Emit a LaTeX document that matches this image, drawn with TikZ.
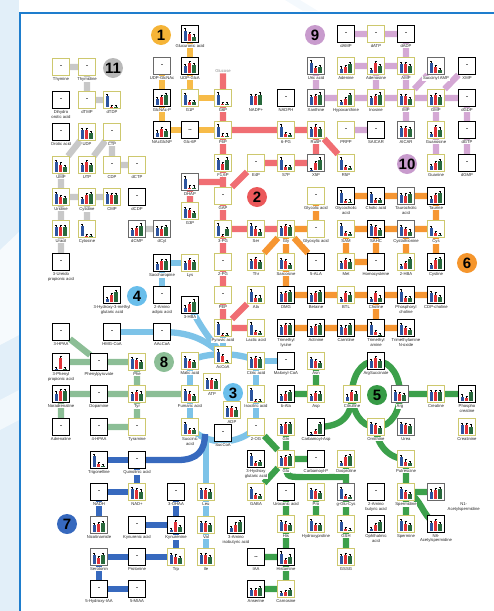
\documentclass[tikz,border=0pt]{standalone}
\usepackage{fontspec}
\setmainfont{Liberation Sans}
\usetikzlibrary{calc}
\pgfdeclarelayer{bg}
\pgfsetlayers{bg,main}
\definecolor{cyb}{RGB}{205,200,110}
\definecolor{cgb}{RGB}{105,105,105}
\definecolor{bblue}{RGB}{45,85,160}
\definecolor{bred}{RGB}{225,50,55}
\definecolor{bgreen}{RGB}{40,105,60}
\definecolor{lgray}{RGB}{200,200,200}
\definecolor{lorange}{RGB}{247,187,72}
\definecolor{lred}{RGB}{240,110,115}
\definecolor{dorange}{RGB}{246,150,50}
\definecolor{lpurple}{RGB}{212,168,212}
\definecolor{lblue}{RGB}{125,195,232}
\definecolor{sgreen}{RGB}{140,190,150}
\definecolor{dgreen}{RGB}{60,160,75}
\definecolor{dblue}{RGB}{55,105,190}
\definecolor{frameblue}{RGB}{30,125,205}
\definecolor{bgl}{RGB}{226,239,249}
\definecolor{k1}{RGB}{245,180,55}
\definecolor{k2}{RGB}{235,88,90}
\definecolor{k9}{RGB}{200,155,205}
\definecolor{k11}{RGB}{185,185,185}
\definecolor{k4}{RGB}{105,190,235}
\definecolor{k8}{RGB}{140,190,150}
\definecolor{k5}{RGB}{55,155,70}
\definecolor{k6}{RGB}{245,150,45}
\definecolor{k7}{RGB}{55,105,190}
\tikzset{
  mb/.style={rectangle,minimum size=17pt,inner sep=0pt,fill=white,line width=0.8pt},
  lab/.style={font=\fontsize{4.2}{4.7}\selectfont,inner sep=0.6pt,align=center,text=black!85,fill=white},
  eb/.style={line width=0.35pt,black},
  conn/.style={line width=6.3pt},
  cGr/.style={conn,lgray},
  cO1/.style={conn,lorange},
  cR/.style={conn,lred},
  cO6/.style={conn,dorange},
  cP/.style={conn,lpurple},
  cB/.style={conn,lblue},
  cG8/.style={conn,sgreen},
  cG5/.style={conn,dgreen},
  cDB/.style={conn,dblue},
  badge/.style={circle,minimum size=20pt,inner sep=0pt,font=\fontsize{15}{15}\selectfont\bfseries,text=black}
}
\newcommand\Mb[8]{%
  \node[mb,draw=#4] (#1) at (#2,#3) {};
  \foreach \hh/\xx/\cc in {#5/2.5/bblue,#6/6.75/bred,#7/11/bgreen}{
    \fill[\cc] ([shift={(\xx pt,1.5pt)}]#1.south west) rectangle ++(3.5pt,{\hh*12pt});
    \draw[eb] ([shift={({\xx pt+1.75pt},{1.5pt+\hh*12pt})}]#1.south west) -- ++(0pt,2pt) ++(-0.9pt,0pt) -- ++(1.8pt,0pt);
  }
  \node[lab,anchor=north] at ([yshift=-0.6pt]#1.south) {#8};
}
\newcommand\Md[6][-]{%
  \node[mb,draw=#5,font=\fontsize{6}{6}\selectfont\bfseries] (#2) at (#3,#4) {#1};
  \node[lab,anchor=north] at ([yshift=-0.6pt]#2.south) {#6};
}
\begin{document}
\begin{tikzpicture}[x=1pt,y=-1pt]
\useasboundingbox (0,0) rectangle (494,611);
% background
\fill[bgl] (0,0) rectangle (19,611);
\fill[white!70!bgl] (0,250) -- (19,232) -- (19,335) -- (0,345) -- cycle;
\fill[white!55!bgl] (0,400) -- (19,390) -- (19,420) -- (0,430) -- cycle;
\fill[white!60!bgl] (285,0) -- (300,0) -- (318,11) -- (303,11) -- cycle;
\draw[frameblue,line width=2pt] (19.5,611) -- (19.5,12.5) -- (494,12.5);
% badges
\node[badge,fill=k1] (b1) at (161,35) {1};
\node[badge,fill=k9] (b9) at (315,35) {9};
\node[badge,fill=k11] (b11) at (113,68) {11};
\node[badge,fill=k2] (b2) at (257,197) {2};
\node[badge,fill=k9] (b10) at (407,164) {10};
\node[badge,fill=k6] (b6) at (467,263) {6};
\node[badge,fill=k4] (b4) at (137,296) {4};
\node[badge,fill=k8] (b8) at (164,362) {8};
\node[badge,fill=k4] (b3) at (233,393) {3};
\node[badge,fill=k5] (b5) at (377,395) {5};
\node[badge,fill=k7] (b7) at (67,524) {7};
% ---- section 11
\Md{thymine}{61}{67}{cyb}{Thymine}
\Md{thymidine}{87}{67}{cyb}{Thymidine}
\Md{dho}{61}{100}{black}{Dihydro\\orotic acid}
\Md{dtmp}{87}{100}{cyb}{dTMP}
\Mb{dtdp}{112}{100}{cyb}{.95}{.04}{.04}{dTDP}
\Md{orotic}{61}{132}{black}{Orotic acid}
\Mb{udp}{87}{132}{cyb}{.8}{.75}{.55}{UDP}
\Md{ctp}{112}{132}{cyb}{CTP}
\Mb{ump}{61}{165}{cyb}{.85}{.65}{.45}{UMP}
\Mb{utp}{87}{165}{cyb}{.6}{.85}{.6}{UTP}
\Md{cdp}{112}{165}{cyb}{CDP}
\Md{dctp}{137}{165}{cyb}{dCTP}
\Mb{uridine}{61}{197}{cyb}{.85}{.6}{.5}{Uridine}
\Mb{cytidine}{87}{197}{cyb}{.45}{.8}{.85}{Cytidine}
\Mb{cmp}{112}{197}{cyb}{.85}{.8}{.75}{CMP}
\Md{dcdp}{137}{197}{black}{dCDP}
\Mb{uracil}{61}{229}{cyb}{.8}{.8}{.8}{Uracil}
\Mb{cytosine}{87}{229}{cyb}{.85}{.04}{.04}{Cytosine}
\Mb{dcmp}{137}{229}{cgb}{.55}{.7}{.9}{dCMP}
\Mb{dcyt}{162}{229}{cgb}{.7}{.65}{.75}{dCyt}
\Md{ureido}{61}{262}{black}{3-Ureido\\propionic acid}
% ---- section 1
\Mb{glcua}{190}{34}{black}{.9}{.6}{.4}{Glucuronic acid}
\Md{udpglcnac}{162}{66}{cgb}{UDP-GlcNAc}
\Mb{udpglca}{190}{66}{black}{.6}{.85}{.7}{UDP-GlcA}
\Mb{glcnacp}{162}{98}{black}{.5}{.7}{.85}{GlcNAc-P}
\Mb{g1p}{190}{98}{cyb}{.85}{.25}{.3}{G1P}
\Mb{g6p}{223}{98}{cyb}{.9}{.1}{.1}{G6P}
\Mb{nadp}{256}{98}{white}{.75}{.75}{.9}{NADP+}
\Md{nadph}{286}{98}{black}{NADPH}
\Mb{nacglcnp}{162}{130}{black}{.4}{.7}{.5}{NAcGlcNP}
\Md[..]{glc6p}{190}{130}{black}{Glc-6P}
\Mb{f6p}{223}{130}{cyb}{.9}{.15}{.15}{F6P}
\Mb{pg6}{286}{130}{cyb}{.9}{.25}{.2}{6-PG}
\Mb{ru5p}{316}{130}{cyb}{.7}{.9}{.7}{Ru5P}
\node[lab,text=black!45] (glucose) at (223,71) {Glucose};
% ---- section 9
\Mb{uric}{316}{66}{cgb}{.9}{.45}{.5}{Uric acid}
\Mb{xanthine}{316}{98}{cgb}{.7}{.75}{.9}{Xanthine}
\Md{damp}{346}{34}{black}{dAMP}
\Md{datp}{376}{34}{cyb}{dATP}
\Md{dadp}{406}{34}{black}{dADP}
\Mb{adenine}{346}{66}{cyb}{.4}{.55}{.75}{Adenine}
\Mb{adenosine}{376}{66}{cyb}{.3}{.85}{.6}{Adenosine}
\Mb{amp}{406}{66}{cyb}{.8}{.8}{.6}{AMP}
\Mb{samp}{436}{66}{cgb}{.85}{.5}{.3}{Succinyl AMP}
\Md{xmp}{467}{66}{black}{XMP}
\Mb{hypox}{346}{98}{cyb}{.3}{.5}{.85}{Hypoxanthine}
\Mb{inosine}{376}{98}{cyb}{.6}{.8}{.9}{Inosine}
\Mb{imp}{406}{98}{cyb}{.8}{.75}{.55}{IMP}
\Mb{gmp}{436}{98}{cyb}{.7}{.85}{.7}{GMP}
\Md{dgdp}{467}{98}{black}{dGDP}
\Md{prpp}{346}{130}{cyb}{PRPP}
\Md{saicar}{376}{130}{black}{SAICAR}
\Mb{aicar}{406}{130}{cgb}{.8}{.75}{.7}{AICAR}
\Mb{guanosine}{436}{130}{cyb}{.3}{.85}{.65}{Guanosine}
\Md{dgtp}{467}{130}{black}{dGTP}
\Mb{guanine}{436}{163}{cyb}{.35}{.6}{.75}{Guanine}
\Md{dgmp}{467}{163}{black}{dGMP}
% ---- section 2
\Mb{f16p}{223}{163}{cyb}{.85}{.55}{.9}{F1,6P}
\Md{e4p}{256}{163}{cyb}{E4P}
\Mb{s7p}{286}{163}{cyb}{.9}{.3}{.3}{S7P}
\Mb{x5p}{316}{163}{cgb}{.04}{.6}{.9}{X5P}
\Mb{r5p}{346}{163}{cyb}{.9}{.3}{.2}{R5P}
\Mb{dhap}{190}{182}{cgb}{.9}{.15}{.15}{DHAP}
\Mb{g3p}{190}{211}{cyb}{.8}{.7}{.45}{G3P}
\Md{gap}{223}{196}{cyb}{GAP}
\Mb{pg3}{223}{229}{cyb}{.9}{.04}{.6}{3-PG}
\Mb{ser}{256}{229}{cyb}{.9}{.65}{.4}{Ser}
\Mb{gly}{286}{229}{cyb}{.7}{.85}{.75}{Gly}
\Md{glycolic}{316}{196}{cyb}{Glycolic acid}
\Md{glyoxylic}{316}{229}{cyb}{Glyoxylic acid}
\Md{pg2}{223}{262}{cyb}{2-PG}
\Mb{thr}{256}{262}{cyb}{.7}{.85}{.6}{Thr}
\Mb{sarcosine}{286}{262}{cyb}{.8}{.7}{.35}{Sarcosine}
\Md{alaf}{316}{262}{black}{5-ALA}
\Md{pep}{223}{295}{cyb}{PEP}
\Mb{ala}{256}{295}{cyb}{.9}{.4}{.4}{Ala}
% ---- section 6
\Mb{glycocholic}{346}{196}{black}{.9}{.2}{.15}{Glycocholic\\acid}
\Mb{cholic}{376}{196}{black}{.8}{.3}{.25}{Cholic acid}
\Mb{taurocholic}{406}{196}{cgb}{.7}{.65}{.75}{Taurocholic\\acid}
\Mb{taurine}{436}{196}{black}{.4}{.7}{.85}{Taurine}
\Mb{sam}{346}{229}{cyb}{.9}{.3}{.2}{SAM}
\Mb{sahc}{376}{229}{black}{.85}{.75}{.55}{SAHC}
\Mb{cystath}{406}{229}{cgb}{.8}{.6}{.4}{Cystathionine}
\Mb{cys}{436}{229}{cyb}{.7}{.3}{.1}{Cys}
\Mb{met}{346}{262}{cyb}{.5}{.8}{.65}{Met}
\Md{homocys}{376}{262}{black}{Homocysteine}
\Mb{hbatwo}{406}{262}{cyb}{.3}{.55}{.85}{2-HBA}
\Mb{cystine}{436}{262}{black}{.35}{.75}{.85}{Cystine}
\Mb{dmg}{286}{295}{black}{.7}{.8}{.85}{DMG}
\Mb{betaine}{316}{295}{black}{.6}{.8}{.85}{Betaine}
\Mb{btl}{346}{295}{cyb}{.25}{.8}{.65}{BTL}
\Mb{choline}{376}{295}{black}{.25}{.75}{.4}{Choline}
\Mb{pcholine}{406}{295}{black}{.9}{.35}{.35}{Phosphoryl\\choline}
\Mb{cdpcholine}{436}{295}{black}{.75}{.65}{.45}{CDP-choline}
\Mb{tmlys}{286}{328}{black}{.7}{.85}{.85}{Trimethyl\\lysine}
\Mb{actinine}{316}{328}{black}{.6}{.75}{.85}{Actinine}
\Mb{carnitine}{346}{328}{black}{.7}{.65}{.85}{Carnitine}
\Mb{tma}{376}{328}{black}{.9}{.3}{.04}{Trimethyl\\amine}
\Mb{tmao}{406}{328}{black}{.85}{.6}{.45}{Trimethylamine\\N-oxide}
% ---- sections 4 / 3
\Mb{saccharopine}{162}{263}{black}{.5}{.8}{.75}{Saccharopine}
\Mb{lys}{190}{263}{cyb}{.6}{.85}{.7}{Lys}
\Mb{hmg}{112}{295}{black}{.3}{.6}{.85}{3-Hydroxy-3-methyl\\glutaric acid}
\Md{aaa}{162}{295}{black}{2-Amino\\adipic acid}
\Mb{hbathree}{190}{305}{black}{.4}{.7}{.9}{3-HBA}
\Md{hpaa}{61}{332}{black}{3-HPAA}
\Md{hmgcoa}{112}{332}{black}{HMG-CoA}
\Md{aacoa}{162}{332}{black}{AAcCoA}
\Mb{pyruvic}{223}{328}{cyb}{.95}{.04}{.04}{Pyruvic acid}
\Mb{lactic}{256}{328}{cyb}{.9}{.3}{.2}{Lactic acid}
\Mb{accoa}{223}{355}{cyb}{.9}{.5}{.04}{AcCoA}
\Mb{malic}{190}{361}{cyb}{.85}{.6}{.5}{Malic acid}
\Mb{citric}{256}{361}{cyb}{.75}{.85}{.8}{Citric acid}
\Md{malonyl}{286}{361}{black}{Malonyl-CoA}
\Mb{atp}{212}{382}{cyb}{.8}{.75}{.7}{ATP}
\Mb{fumaric}{190}{394}{cyb}{.85}{.65}{.45}{Fumaric acid}
\Mb{isocitric}{256}{394}{cyb}{.95}{.04}{.04}{Isocitric acid}
\Mb{adp}{232}{410}{cyb}{.8}{.75}{.65}{ADP}
\Mb{succinic}{190}{427}{cyb}{.85}{.35}{.35}{Succinic\\acid}
\Md{succoa}{223}{433}{black}{SucCoA}
\Md{ogtwo}{256}{427}{cyb}{2-OG}
% ---- section 5
\Mb{asn}{316}{361}{cyb}{.8}{.6}{.45}{Asn}
\Mb{bala}{286}{394}{black}{.45}{.65}{.8}{b-Ala}
\Mb{asp}{316}{394}{cyb}{.45}{.7}{.65}{Asp}
\Mb{gln}{286}{427}{cyb}{.7}{.85}{.85}{Gln}
\Mb{casp}{316}{427}{black}{.04}{.3}{.85}{Carbamoyl-Asp}
\Mb{argsucc}{376}{361}{black}{.6}{.85}{.6}{ArgSuccinate}
\Mb{citrulline}{352}{394}{cyb}{.4}{.75}{.65}{Citrulline}
\Mb{arg}{400}{394}{cgb}{.75}{.6}{.5}{Arg}
\Mb{creatine}{436}{394}{cyb}{.75}{.75}{.8}{Creatine}
\Mb{pcreatine}{467}{394}{black}{.4}{.3}{.75}{Phospho\\creatine}
\Mb{ornithine}{376}{427}{cyb}{.85}{.75}{.5}{Ornithine}
\Mb{urea}{406}{427}{cgb}{.85}{.75}{.7}{Urea}
\Mb{creatinine}{467}{427}{cyb}{.75}{.8}{.65}{Creatinine}
\Mb{hga}{256}{459}{black}{.9}{.3}{.35}{3-Hydroxy\\glutaric acid}
\Mb{glu}{286}{459}{cyb}{.7}{.8}{.85}{Glu}
\Md{carbp}{316}{459}{black}{Carbamoyl-P}
\Mb{oxopro}{346}{459}{cyb}{.3}{.8}{.85}{Oxoproline}
\Mb{putrescine}{406}{459}{cyb}{.8}{.4}{.3}{Putrescine}
\Mb{gaba}{256}{492}{cyb}{.85}{.35}{.25}{GABA}
\Md{urocanic}{286}{492}{black}{Urocanic acid}
\Mb{pro}{316}{492}{cyb}{.8}{.7}{.55}{Pro}
\Mb{gglucys}{346}{492}{cgb}{.85}{.3}{.2}{g-Glu-Cys}
\Md{aba}{376}{492}{black}{2-Amino\\butyric acid}
\Mb{spermidine}{406}{492}{cyb}{.85}{.6}{.45}{Spermidine}
\Mb{nacone}{436}{492}{cgb}{.65}{.75}{.85}{}
\node[lab,anchor=north west] (nacl) at ([xshift=2pt,yshift=-1pt]nacone.south east) {N1-\\Acetylspermidine};
\Mb{his}{286}{524}{cyb}{.8}{.65}{.5}{His}
\Mb{hypro}{316}{524}{cyb}{.85}{.55}{.55}{Hydroxyproline}
\Mb{gsh}{346}{524}{cyb}{.8}{.2}{.1}{GSH}
\Mb{ophth}{376}{524}{black}{.2}{.55}{.75}{Ophthalmic\\acid}
\Mb{spermine}{406}{524}{cyb}{.85}{.65}{.5}{Spermine}
\Mb{nac8}{436}{524}{black}{.7}{.85}{.6}{N8-\\Acetylspermidine}
\Md[..]{iaa}{256}{557}{black}{IAA}
\Mb{histamine}{286}{557}{black}{.9}{.35}{.65}{Histamine}
\Mb{gssg}{346}{557}{cyb}{.7}{.75}{.7}{GSSG}
\Mb{anserine}{256}{589}{black}{.5}{.55}{.7}{Anserine}
\Mb{carnosine}{286}{589}{cyb}{.3}{.35}{.5}{Carnosine}
% ---- section 8
\Mb{ppa}{61}{362}{black}{.04}{.95}{.04}{3-Phenyl\\propionic acid}
\Md{phpyr}{99}{362}{black}{Phenylpyruvate}
\Mb{phe}{137}{362}{cyb}{.85}{.8}{.6}{Phe}
\Mb{noradr}{61}{394}{black}{.65}{.85}{.85}{Noradrenaline}
\Md{dopamine}{99}{394}{black}{Dopamine}
\Mb{tyr}{137}{394}{cyb}{.6}{.8}{.65}{Tyr}
\Md{adrenaline}{61}{427}{black}{Adrenaline}
\Md{hpaafour}{99}{427}{black}{4-HPAA}
\Md{tyramine}{137}{427}{cyb}{Tyramine}
% ---- section 7
\Mb{trigonelline}{99}{460}{black}{.95}{.3}{.1}{Trigonelline}
\Md{quinolinic}{137}{460}{black}{Quinolinic acid}
\Md{nadh}{99}{492}{black}{NADH}
\Mb{nad}{137}{492}{cyb}{.85}{.75}{.65}{NAD+}
\Md{ohaa}{176}{492}{black}{3-OHAA}
\Mb{nicotinamide}{99}{525}{cgb}{.6}{.7}{.8}{Nicotinamide}
\Md{kynurenic}{137}{525}{black}{Kynurenic acid}
\Mb{kynurenine}{176}{525}{black}{.2}{.85}{.45}{Kynurenine}
\Mb{serotonin}{99}{557}{cgb}{.8}{.55}{.75}{Serotonin}
\Md{protonine}{137}{557}{black}{Protonine}
\Mb{trp}{176}{557}{cyb}{.75}{.65}{.5}{Trp}
\Md{hiaa}{99}{589}{black}{5-Hydroxy-IAA}
\Md{miaa}{137}{589}{black}{5-MIAA}
\Mb{leu}{206}{492}{cyb}{.8}{.8}{.65}{Leu}
\Mb{val}{206}{525}{cyb}{.75}{.75}{.6}{Val}
\Mb{ile}{206}{557}{cyb}{.75}{.75}{.6}{Ile}
\Mb{aiba}{236}{525}{black}{.35}{.65}{.85}{3-Amino\\isobutyric acid}
% helper coordinates
\coordinate (lbend) at (206,438);
\coordinate (dbend) at (205,434);
\coordinate (gj) at (346,477);
\coordinate (dhj) at (223,182);
\begin{pgfonlayer}{bg}
% gray
\draw[cGr] (thymine)--(thymidine) (thymidine)--(dtmp) (dtmp)--(dtdp) (udp)--(ump) (ctp)--(utp) (ctp)--(cdp) (cdp)--(dctp) (ump)--(uridine) (uridine)--(cytidine) (cytidine)--(cmp) (uridine)--(uracil) (cytidine)--(cytosine) (uracil)--(ureido) (dcmp)--(dcyt);
% orange 1
\draw[cO1] (glcua)--(udpglca) (udpglca)--(g1p) (udpglcnac)--(glcnacp) (glcnacp)--(nacglcnp) (g1p)--(g6p) (nacglcnp)--(glc6p) (glc6p)--(f6p);
% red 2
\draw[cR] (glucose)--(g6p) (g6p)--(f6p) (f6p)--(pg6) (pg6)--(ru5p) (ru5p)--(r5p) (ru5p)--(x5p) (f6p)--(f16p) (f16p)--(gap) (dhap.center)--(dhj) (dhap)--(g3p) (gap)--(e4p) (e4p)--(s7p) (s7p)--(x5p) (gap)--(pg3) (pg3)--(ser) (ser)--(gly) (pg3)--(pg2) (pg2)--(pep) (pep)--(pyruvic) (pyruvic)--(ala) (pyruvic)--(lactic);
% purple 9/10
\draw[cP] (uric)--(xanthine) (xanthine)--(hypox) (damp)--(datp) (datp)--(dadp) (dadp)--(amp) (adenine)--(adenosine) (adenosine)--(amp) (adenosine)--(inosine) (amp)--(imp) (hypox)--(inosine) (inosine)--(imp) (imp)--(gmp) (imp)--(samp) (gmp)--(xmp) (gmp)--(dgdp) (dgdp)--(dgtp) (gmp)--(guanosine) (imp)--(aicar) (prpp)--(saicar) (guanosine)--(guanine) (dgtp)--(dgmp);
% orange 6
\draw[cO6] (gly)--(glyoxylic) (glyoxylic)--(glycolic) (gly)--(thr) (gly)--(sarcosine) (gly)--(alaf) (sarcosine)--(dmg) (dmg)--(betaine) (betaine)--(btl) (btl)--(choline) (choline)--(pcholine) (pcholine)--(cdpcholine) (choline)--(tma) (carnitine)--(tma) (tma)--(tmao) (tmlys)--(actinine) (actinine)--(carnitine) (glycocholic)--(cholic) (cholic)--(taurocholic) (taurocholic)--(taurine) (taurine)--(cys) (sam)--(sahc) (sahc)--(cystath) (cystath)--(cys) (sam)--(met) (sahc)--(homocys) (met)--(homocys) (cystath)--(hbatwo) (cys)--(cystine);
% light blue 3/4
\draw[cB] (saccharopine)--(lys) (saccharopine)--(aaa) (hmgcoa)--(aacoa) (pyruvic)--(accoa) (malic)--(fumaric) (fumaric)--(succinic) (citric)--(isocitric) (isocitric)--(ogtwo) (citric)--(malonyl) (leu)--(val) (val)--(ile);
\draw[cB] (aacoa.center) .. controls (195,332) and (208,343) .. (accoa.center);
\draw[cB] (hbathree.center) .. controls (197,322) and (210,340) .. (accoa.center);
\draw[cB] (malic.center) .. controls (205,352) and (240,352) .. (citric.center);
\draw[cB] (succinic.center) .. controls (205,446) and (240,446) .. (ogtwo.center);
\draw[cB] (leu.center) -- (lbend);
% sage green 8
\draw[cG8] (hpaa)--(phpyr) (ppa)--(phpyr) (phpyr)--(phe) (phe)--(tyr) (tyr)--(fumaric) (noradr)--(dopamine) (dopamine)--(tyr) (noradr)--(adrenaline) (hpaafour)--(tyramine) (tyramine)--(tyr);
% green 5
\draw[cG5] (bala)--(asp) (asn)--(asp) (arg)--(creatine) (creatine)--(pcreatine) (putrescine)--(spermidine) (spermidine)--(nacone) (spermidine)--(spermine) (ogtwo)--(glu) (gln)--(glu) (glu)--(carbp) (oxopro)--(gglucys) (glu)--(gaba) (his)--(urocanic) (his)--(histamine) (iaa)--(histamine) (histamine)--(carnosine) (anserine)--(carnosine) (pro)--(hypro) (gglucys)--(gsh) (gsh)--(gssg);
\draw[cG5] (citrulline.center) to[out=90,in=180] (argsucc.center) to[out=0,in=90] (arg.center) to[out=-90,in=0] (ornithine.center) to[out=180,in=-90] (citrulline.center);
\draw[cG5] (casp.center) .. controls (338,427) and (352,420) .. (citrulline.center);
\draw[cG5] (ornithine.center) to[out=-90,in=180] (putrescine.center);
\draw[cG5] (spermidine.center) to[out=-20,in=150] (nac8.center);
\draw[cG5] (glu.center) .. controls (286,477) .. (302,477) -- (gj);
% dark blue 7
\draw[cDB] (trigonelline)--(quinolinic) (quinolinic)--(nad) (nadh)--(nad) (nadh)--(nicotinamide) (kynurenic)--(kynurenine) (kynurenine)--(ohaa) (kynurenine)--(trp) (serotonin)--(protonine) (protonine)--(trp) (serotonin)--(hiaa) (hiaa)--(miaa);
\draw[cDB] (quinolinic.center) -- (178,460) .. controls (198,460) and (205,450) .. (dbend);
\end{pgfonlayer}
\end{tikzpicture}
\end{document}
